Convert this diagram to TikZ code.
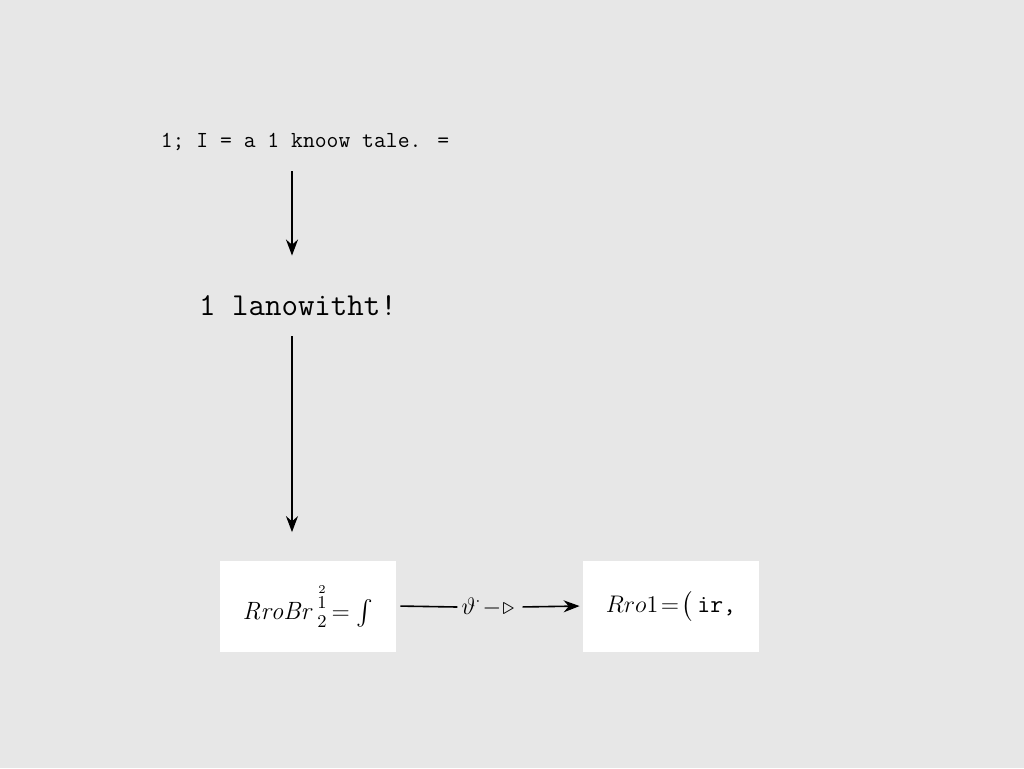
\documentclass[tikz,border=0pt]{standalone}
\usepackage{fontspec}
\usepackage{amsmath}
\usepackage{amssymb}
\usetikzlibrary{arrows.meta}
\usetikzlibrary{positioning}
\definecolor{paper}{HTML}{E7E7E7}
\newcommand{\halfpow}{\genfrac{}{}{0pt}{1}{\overset{2}{1}}{2}}
\tikzset{
	flow/.style={-{Stealth[length=8pt,width=6pt]}, line width=0.8pt},
	formbox/.style={fill=white, minimum width=88pt, minimum height=45.5pt, inner sep=0pt, font=\fontsize{12.5}{14}\selectfont},
	caption/.style={inner sep=0pt}
}

\begin{document}
\begin{tikzpicture}[x=0.5pt,y=-0.5pt]

					\fill[paper] (0,0) rectangle (1024,768);

					\node[caption, font=\ttfamily\fontsize{11.5}{13}\selectfont] (claim) at (305,142) {1; I = a 1 knoow tale. =};
					\node[caption, font=\ttfamily\fontsize{16}{18}\selectfont] (step) at (298,306) {1 lanowitht!};

					\node[formbox] (src) at (308,606) {$\mathit{RroBr}\,\halfpow\!=\int$};
					\node[formbox] (dst) at (671,606) {$Rro1\!=\!\big($\,\texttt{ir,}};
					\node[inner sep=2pt, font=\large] (gate) at (488,607) {$\vartheta^{\cdot}\!-\!\triangleright$};

					\coordinate (axis) at (292,0);

					\draw[flow, shorten <=10pt, shorten >=20pt] (claim.south -| axis) -- (step.north -| axis);
					\draw[flow, shorten <=10pt, shorten >=14pt] (step.south -| axis) -- (src.north -| axis);

					\draw[line width=0.8pt, shorten <=2pt] (src.east) -- (gate.west);
					\draw[flow, shorten <=2pt, shorten >=1.5pt] (gate.east) -- (dst.west);

\end{tikzpicture}
\end{document}
